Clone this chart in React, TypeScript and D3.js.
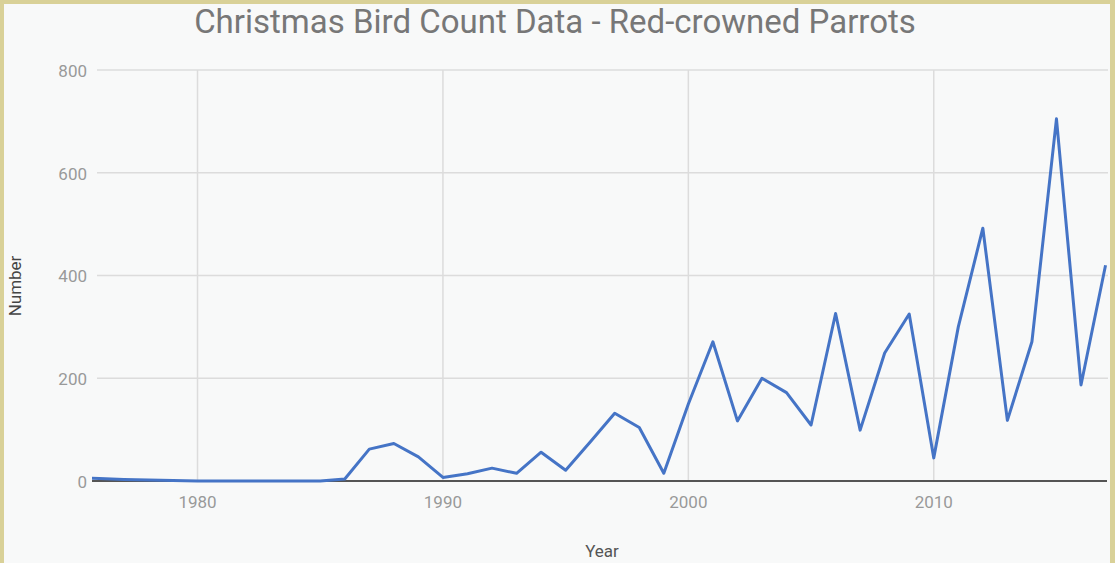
import React from 'react';
import * as d3 from 'd3';

// Christmas Bird Count, Red-crowned Parrots, per year
const years = [
  1975, 1976, 1977, 1978, 1979, 1980, 1981, 1982, 1983, 1984, 1985, 1986,
  1987, 1988, 1989, 1990, 1991, 1992, 1993, 1994, 1995, 1996, 1997, 1998,
  1999, 2000, 2001, 2002, 2003, 2004, 2005, 2006, 2007, 2008, 2009, 2010,
  2011, 2012, 2013, 2014, 2015, 2016, 2017,
];
const counts = [
  6, 5, 3, 2, 1, 0, 0, 0, 0, 0, 0, 4,
  62, 73, 47, 7, 14, 25, 15, 56, 21, 76, 132, 104,
  15, 150, 271, 117, 200, 172, 109, 326, 99, 249, 325, 45,
  300, 492, 118, 271, 705, 187, 420,
];
const xTicks = [1980, 1990, 2000, 2010];
const yTicks = [0, 200, 400, 600, 800];

const width = 1115;
const height = 563;
const plot = { left: 92, right: 1108, top: 70, bottom: 481 };

export default function App() {
  const data = years.map((y, i) => ({ year: y, value: counts[i] }));

  const x = d3.scaleLinear().domain([1975.7, 2017.1]).range([plot.left, plot.right]);
  const y = d3.scaleLinear().domain([0, 800]).range([plot.bottom, plot.top]);

  const line = d3
    .line<{ year: number; value: number }>()
    .x(d => x(d.year))
    .y(d => y(d.value));

  const font = 'Roboto, "Noto Sans", sans-serif';

  return (
    <svg
      width={width}
      height={height}
      style={{ position: 'absolute', left: 0, top: 0, display: 'block' }}
      fontFamily={font}
    >
      <defs>
        <clipPath id="plot-clip">
          <rect x={plot.left} y={0} width={plot.right - plot.left} height={plot.bottom + 10} />
        </clipPath>
      </defs>
      <rect x={0} y={0} width={width} height={height} fill="#d9d198" />
      <rect x={4} y={4} width={1106} height={height - 4} fill="#f8f9f9" />

      <text x={555} y={33} textAnchor="middle" fontSize={33} fill="#777">
        Christmas Bird Count Data - Red-crowned Parrots
      </text>

      {/* gridlines */}
      {yTicks.filter(t => t > 0).map(t => (
        <line key={'h' + t} x1={97} x2={plot.right} y1={y(t)} y2={y(t)} stroke="#dcdcdc" strokeWidth={1.5} />
      ))}
      {xTicks.map(t => (
        <line key={'v' + t} x1={x(t)} x2={x(t)} y1={plot.top} y2={plot.bottom} stroke="#dcdcdc" strokeWidth={1.5} />
      ))}

      {/* tick labels */}
      {yTicks.map(t => (
        <text key={'yl' + t} x={87} y={y(t) + 1} dy="0.35em" textAnchor="end" fontSize={17} fill="#999">
          {t}
        </text>
      ))}
      {xTicks.map(t => (
        <text key={'xl' + t} x={x(t)} y={502} dy="0.35em" textAnchor="middle" fontSize={17} fill="#999">
          {t}
        </text>
      ))}

      <line x1={plot.left} x2={plot.right - 1} y1={plot.bottom} y2={plot.bottom} stroke="#555" strokeWidth={2} />

      <path
        d={line(data) || ''}
        fill="none"
        stroke="#4574c6"
        strokeWidth={3}
        strokeLinejoin="round"
        clipPath="url(#plot-clip)"
      />

      <text x={(plot.left + plot.right) / 2 + 2} y={551} dy="0.35em" textAnchor="middle" fontSize={17} fill="#555">
        Year
      </text>
      <text
        transform={`translate(15,${286}) rotate(-90)`}
        textAnchor="middle"
        dy="0.35em"
        fontSize={17}
        fill="#444"
      >
        Number
      </text>
    </svg>
  );
}
